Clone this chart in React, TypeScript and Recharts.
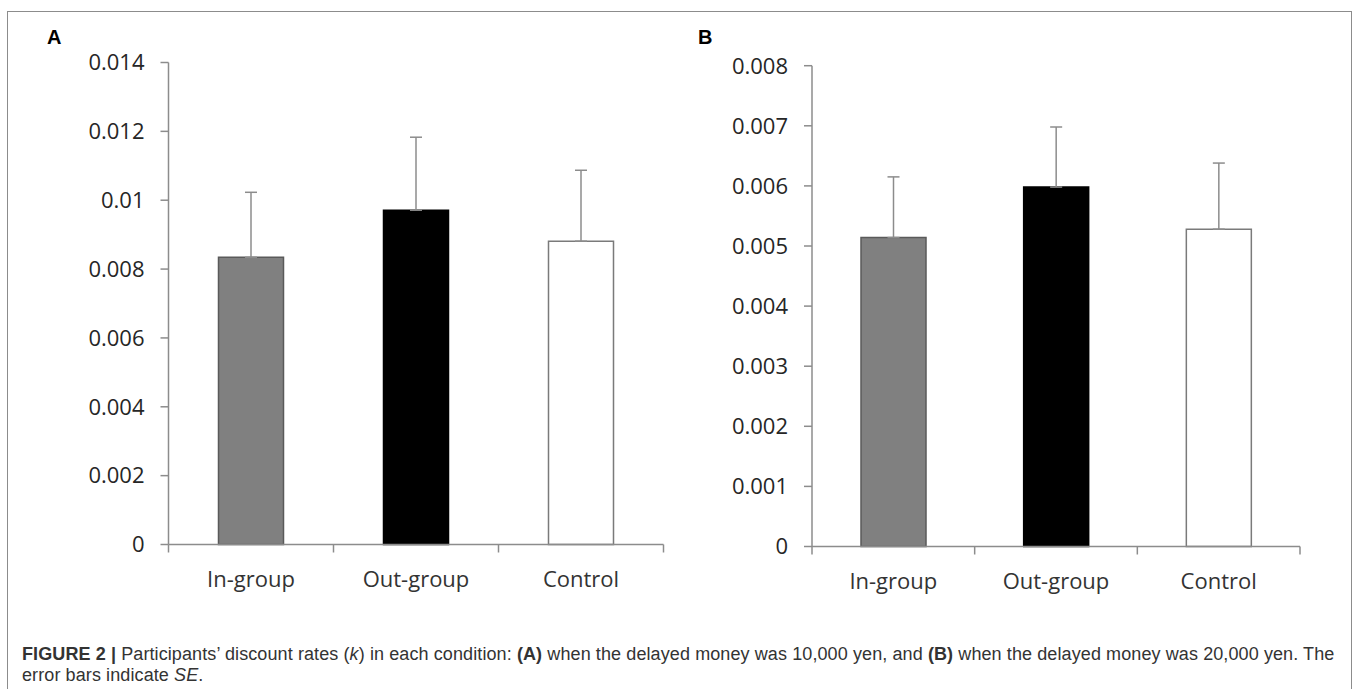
import React from "react";
import { BarChart, Bar, XAxis, YAxis, ErrorBar, Cell } from "recharts";

const categories = ["In-group", "Out-group", "Control"];
const valuesA = [0.00834, 0.00971, 0.00881];
const seA = [0.00189, 0.00212, 0.00206];
const valuesB = [0.00514, 0.00598, 0.00528];
const seB = [0.00101, 0.001, 0.0011];
const ticksA = [0, 0.002, 0.004, 0.006, 0.008, 0.01, 0.012, 0.014];
const ticksB = [0, 0.001, 0.002, 0.003, 0.004, 0.005, 0.006, 0.007, 0.008];
const fills = ["#808080", "#000000", "#ffffff"];
const strokes = ["#5a5a5a", "#000000", "#7a7a7a"];

const dataA = categories.map((c, i) => ({ name: c, value: valuesA[i], err: [0, seA[i]] }));
const dataB = categories.map((c, i) => ({ name: c, value: valuesB[i], err: [0, seB[i]] }));

const AXIS = "#8c8c8c";
const FONT = "'Open Sans', sans-serif";
const CHART_W = 680;
const CHART_H = 600;
const YAXIS_W = 80;

function makeCatTick(bandWidth: number) {
  return function CatTick(props: any) {
    const { x, y, payload, index, visibleTicksCount } = props;
    const half = bandWidth / 2;
    const last = index === (visibleTicksCount ?? 3) - 1;
    return (
      <g>
        <line x1={x - half} x2={x - half} y1={y} y2={y + 8} stroke={AXIS} strokeWidth={1.5} />
        {last && <line x1={x + half} x2={x + half} y1={y} y2={y + 8} stroke={AXIS} strokeWidth={1.5} />}
        <text x={x} y={y + 42} textAnchor="middle" fill="#333" fontSize={22} fontFamily={FONT}>
          {payload.value}
        </text>
      </g>
    );
  };
}

function Panel({ data, ticks, max, margin }: any) {
  const plotW = CHART_W - margin.left - margin.right - YAXIS_W;
  const bandWidth = plotW / data.length;
  return (
    <BarChart width={CHART_W} height={CHART_H} data={data} margin={margin}>
      <XAxis
        dataKey="name"
        height={50}
        axisLine={{ stroke: AXIS, strokeWidth: 1.5 }}
        tickLine={false}
        tickSize={0}
        tickMargin={0}
        interval={0}
        tick={makeCatTick(bandWidth)}
      />
      <YAxis
        domain={[0, max]}
        ticks={ticks}
        interval={0}
        width={YAXIS_W}
        tickSize={8}
        tickMargin={16}
        tickFormatter={(v: number) => String(v)}
        axisLine={{ stroke: AXIS, strokeWidth: 1.5 }}
        tickLine={{ stroke: AXIS, strokeWidth: 1.5 }}
        tick={{ fill: "#262626", fontSize: 22, fontFamily: FONT }}
      />
      <Bar dataKey="value" barSize={65} isAnimationActive={false} strokeWidth={1.5}>
        {data.map((d: any, i: number) => (
          <Cell key={d.name} fill={fills[i]} stroke={strokes[i]} />
        ))}
        <ErrorBar dataKey="err" direction="y" width={6} stroke={AXIS} strokeWidth={1.5} isAnimationActive={false} />
      </Bar>
    </BarChart>
  );
}

export default function App() {
  return (
    <div style={{ position: "absolute", left: 0, top: 0, width: 1360, height: 689, overflow: "hidden", background: "#fff" }}>
      <div style={{ position: "absolute", left: 7, top: 11, width: 1345, height: 720, border: "1.5px solid #8c8c8c", boxSizing: "border-box" }} />
      <div style={{ position: "absolute", left: 0, top: 0 }}>
        <Panel data={dataA} ticks={ticksA} max={0.014} margin={{ top: 62.5, right: 16.5, left: 88.5, bottom: 5.5 }} />
      </div>
      <div style={{ position: "absolute", left: 640, top: 0 }}>
        <Panel data={dataB} ticks={ticksB} max={0.008} margin={{ top: 65.7, right: 20, left: 92, bottom: 3.5 }} />
      </div>
      <div style={{ position: "absolute", left: 47, top: 27, fontFamily: "'Liberation Sans', Arial, sans-serif", fontWeight: "bold", fontSize: 20, lineHeight: "20px" }}>A</div>
      <div style={{ position: "absolute", left: 698, top: 27, fontFamily: "'Liberation Sans', Arial, sans-serif", fontWeight: "bold", fontSize: 20, lineHeight: "20px" }}>B</div>
      <div style={{ position: "absolute", left: 22, top: 644, fontFamily: "'Liberation Sans', Arial, sans-serif", fontSize: 18, letterSpacing: "0.1px", lineHeight: "21px", color: "#333", whiteSpace: "nowrap" }}>
        <b>FIGURE 2 |</b> Participants’ discount rates (<i>k</i>) in each condition: <b>(A)</b> when the delayed money was 10,000 yen, and <b>(B)</b> when the delayed money was 20,000 yen. The
        <br />
        error bars indicate <i>SE</i>.
      </div>
    </div>
  );
}
